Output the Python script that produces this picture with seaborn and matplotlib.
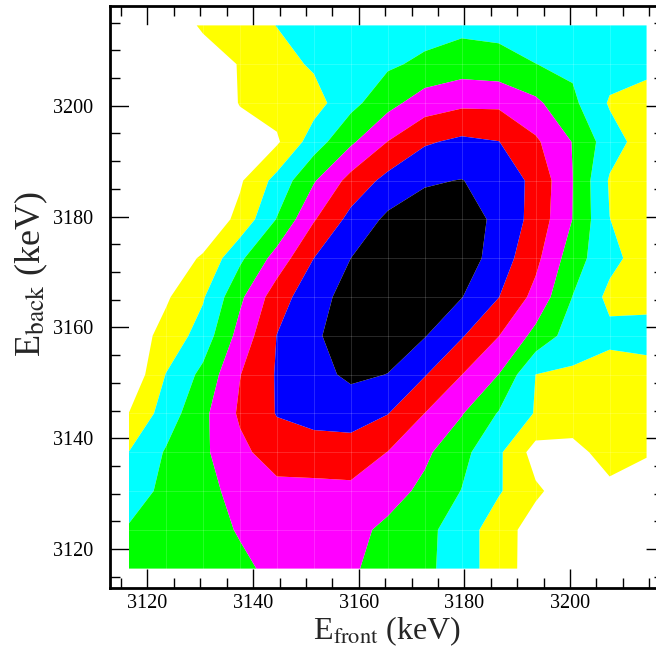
import numpy as np
import matplotlib
matplotlib.use("Agg")
import matplotlib.pyplot as plt
from matplotlib.ticker import MultipleLocator
import seaborn as sns

# Energy grid of the coincidence map (keV)
e_front = [3116.5, 3123.5, 3130.5, 3137.5, 3144.5, 3151.5, 3158.5, 3165.5,
           3172.5, 3179.5, 3186.5, 3193.5, 3200.5, 3207.5, 3214.5]
e_back = [3116.5, 3123.5, 3130.5, 3137.5, 3144.5, 3151.5, 3158.5, 3165.5,
          3172.5, 3179.5, 3186.5, 3193.5, 3200.5, 3207.5, 3214.5]

# Contour level value on the grid, one row per E_back (bottom to top)
row_3116 = [3.2, 3.4, 3.6, 3.8, 4.25, 4.35, 4.1, 3.7, 3.2, 2.55, 1.4, 0.6, 0.4, 0.4, 0.4]
row_3123 = [3.1, 3.35, 3.6, 4.08, 4.4, 4.55, 4.3, 3.78, 3.26, 2.53, 1.42, 0.6, 0.4, 0.4, 0.4]
row_3130 = [2.5, 3.25, 3.81, 4.2, 4.7, 4.7, 4.77, 4.4, 3.77, 2.97, 2.1, 1.15, 0.5, 0.7, 0.4]
row_3137 = [2.02, 3.09, 3.82, 4.75, 5.5, 5.6, 5.6, 4.98, 4.19, 3.3, 2.17, 0.6, 0.6, 1.5, 1.1]
row_3144 = [1.02, 2.47, 3.76, 5.15, 6.05, 6.3, 6.4, 6.03, 4.99, 4.06, 2.93, 1.93, 1.7, 1.6, 1.5]
row_3151 = [0.2, 2.03, 3.26, 4.97, 6.08, 6.66, 7.2, 6.98, 6.06, 5.01, 3.99, 1.99, 1.85, 1.55, 1.4]
row_3158 = [0.4, 1.34, 2.43, 4.36, 6.02, 6.88, 7.4, 7.5, 7.05, 6.08, 5.02, 3.7, 2.5, 2.25, 2.6]
row_3165 = [0.3, 0.87, 1.9, 3.8, 5.54, 6.64, 7.35, 7.7, 7.8, 7.03, 6.02, 4.69, 2.98, 1.75, 1.5]
row_3172 = [0.1, 0.4, 1.12, 2.8, 4.4, 6.0, 7.0, 7.3, 7.6, 7.55, 6.53, 5.26, 3.45, 2.29, 1.5]
row_3179 = [0.1, 0.15, 0.2, 1.28, 3.05, 4.92, 6.3, 7.2, 7.45, 7.5, 6.76, 5.64, 3.98, 2.01, 1.5]
row_3186 = [0.1, 0.2, 0.45, 0.87, 2.33, 3.91, 5.34, 6.3, 6.9, 7.03, 6.6, 5.75, 4.01, 1.9, 1.5]
row_3193 = [0.1, 0.25, 0.5, 0.8, 0.86, 2.51, 3.83, 5.02, 5.88, 6.2, 6.02, 5.16, 3.96, 2.45, 1.5]
row_3200 = [0.2, 0.35, 0.65, 1.02, 1.40, 1.6, 2.7, 3.67, 4.5, 4.8, 4.8, 4.2, 3.22, 1.9, 1.55]
row_3207 = [0.2, 0.4, 0.7, 1.03, 1.63, 2.13, 2.49, 2.85, 3.2, 3.5, 3.35, 3.01, 2.79, 2.4, 2.3]
row_3214 = [0.2, 0.61, 1.08, 1.55, 2.02, 2.2, 2.35, 2.45, 2.6, 2.75, 2.7, 2.5, 2.3, 2.2, 2.3]

band_levels = [0, 1, 2, 3, 4, 5, 6, 7, 8]
band_colors = ["#ffffff", "#ffff00", "#00ffff", "#00ff00",
               "#ff00ff", "#ff0000", "#0000ff", "#000000"]

x_ticks = [3120, 3140, 3160, 3180, 3200]
y_ticks = [3120, 3140, 3160, 3180, 3200]

z = np.array([row_3116, row_3123, row_3130, row_3137, row_3144, row_3151,
              row_3158, row_3165, row_3172, row_3179, row_3186, row_3193,
              row_3200, row_3207, row_3214])

sns.set_theme(style="ticks")
plt.rcParams["font.family"] = ["Liberation Serif", "DejaVu Serif"]
plt.rcParams["mathtext.fontset"] = "stix"

W, H = 656, 661
fig = plt.figure(figsize=(W / 100, H / 100), dpi=100)
fig.patch.set_facecolor("white")
ax = fig.add_axes([110 / W, (H - 588) / H, (664 - 110) / W, (588 - 6) / H])
ax.set_facecolor("white")

ax.contourf(e_front, e_back, z, levels=band_levels, colors=band_colors,
            antialiased=True)

# faint cell seams of the filled map
seam = dict(color="white", alpha=0.18, lw=0.6, zorder=2)
for xv in e_front[1:-1]:
    ax.plot([xv, xv], [e_back[0], e_back[-1]], **seam)
for yv in e_back[1:-1]:
    ax.plot([e_front[0], e_front[-1]], [yv, yv], **seam)

ax.set_xlim(3112.9, 3217.8)
ax.set_ylim(3113.0, 3218.0)
ax.set_xticks(x_ticks)
ax.set_yticks(y_ticks)
ax.xaxis.set_minor_locator(MultipleLocator(5))
ax.yaxis.set_minor_locator(MultipleLocator(5))
ax.tick_params(which="both", direction="in", top=True, right=True,
               colors="black", width=1.0)
ax.tick_params(which="major", length=14)
ax.tick_params(which="minor", length=7)
ax.tick_params(axis="x", which="major", labelsize=14.5, pad=4)
ax.tick_params(axis="y", which="major", labelsize=14.5, pad=12)

for sp in ax.spines.values():
    sp.set_linewidth(2.0)
    sp.set_color("black")
    sp.set_zorder(5)

ax.set_xlabel(r"E$_{\mathrm{front}}$ (keV)", fontsize=23)
ax.set_ylabel(r"E$_{\mathrm{back}}$ (keV)", fontsize=26)
ax.xaxis.set_label_coords(0.5, -0.045)
ax.yaxis.set_label_coords(-0.108, 0.54)

fig.savefig("out.png", dpi=100, facecolor="white")
